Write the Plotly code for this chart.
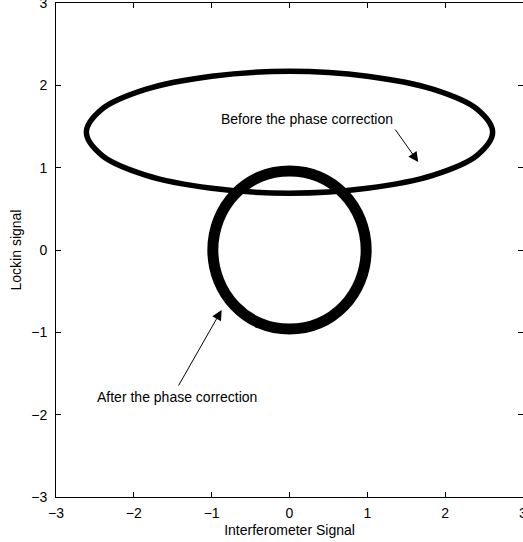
import plotly.graph_objects as go

# "Before the phase correction" loop
before_x = [2.61, 2.41, 1.85, 1.00, 0.00, -1.00, -1.85, -2.41, -2.61, -2.41, -1.85, -1.00, 0.00, 1.00, 1.85, 2.41, 2.61]
before_y = [1.43, 1.71, 1.95, 2.11, 2.17, 2.11, 1.95, 1.71, 1.43, 1.15, 0.91, 0.75, 0.69, 0.75, 0.91, 1.15, 1.43]

# "After the phase correction" loop
after_x = [0.985, 0.91, 0.70, 0.38, 0.00, -0.38, -0.70, -0.91, -0.985, -0.91, -0.70, -0.38, 0.00, 0.38, 0.70, 0.91, 0.985]
after_y = [0.00, 0.37, 0.68, 0.89, 0.96, 0.89, 0.68, 0.37, 0.00, -0.37, -0.68, -0.89, -0.96, -0.89, -0.68, -0.37, 0.00]

tick_vals = [-3, -2, -1, 0, 1, 2, 3]
tick_text = ["\u22123", "\u22122", "\u22121", "0", "1", "2", "3"]

font = "Liberation Sans, Arial, Helvetica, sans-serif"
fs = 14

fig = go.Figure()
fig.add_trace(go.Scatter(x=before_x, y=before_y, mode="lines",
                         line=dict(color="black", width=5.5, shape="spline"),
                         showlegend=False, hoverinfo="skip"))
fig.add_trace(go.Scatter(x=after_x, y=after_y, mode="lines",
                         line=dict(color="black", width=11, shape="spline"),
                         showlegend=False, hoverinfo="skip"))

fig.add_annotation(x=1.654, y=1.069, ax=1.346, ay=1.48, xref="x", yref="y",
                   axref="x", ayref="y", text="", showarrow=True,
                   arrowhead=2, arrowsize=2, arrowwidth=1, arrowcolor="black")
fig.add_annotation(x=0.22, y=1.59, xref="x", yref="y", text="Before the phase correction",
                   showarrow=False, font=dict(family=font, size=fs, color="black"))
fig.add_annotation(x=-0.872, y=-0.729, ax=-1.436, ay=-1.664, xref="x", yref="y",
                   axref="x", ayref="y", text="", showarrow=True,
                   arrowhead=2, arrowsize=2, arrowwidth=1, arrowcolor="black")
fig.add_annotation(x=-1.44, y=-1.78, xref="x", yref="y", text="After the phase correction",
                   showarrow=False, font=dict(family=font, size=fs, color="black"))

axis_common = dict(range=[-3, 3], tickvals=tick_vals, ticktext=tick_text,
                   ticks="inside", ticklen=5, tickcolor="black", tickwidth=1,
                   showline=True, linecolor="black", linewidth=1, mirror="ticks",
                   showgrid=False, zeroline=False, ticklabeloverflow="allow",
                   automargin=False,
                   tickfont=dict(family=font, size=fs, color="black"))

fig.update_layout(
    width=523, height=542,
    margin=dict(l=56, r=0, t=3, b=45),
    paper_bgcolor="white", plot_bgcolor="white",
    xaxis=dict(title=dict(text="Interferometer Signal", standoff=5,
                          font=dict(family=font, size=fs, color="black")),
               ticklabelstandoff=3, **axis_common),
    yaxis=dict(title=dict(text="Lockin signal", standoff=6,
                          font=dict(family=font, size=fs, color="black")),
               ticklabelstandoff=5, **axis_common),
)

fig.write_html("out.html")
